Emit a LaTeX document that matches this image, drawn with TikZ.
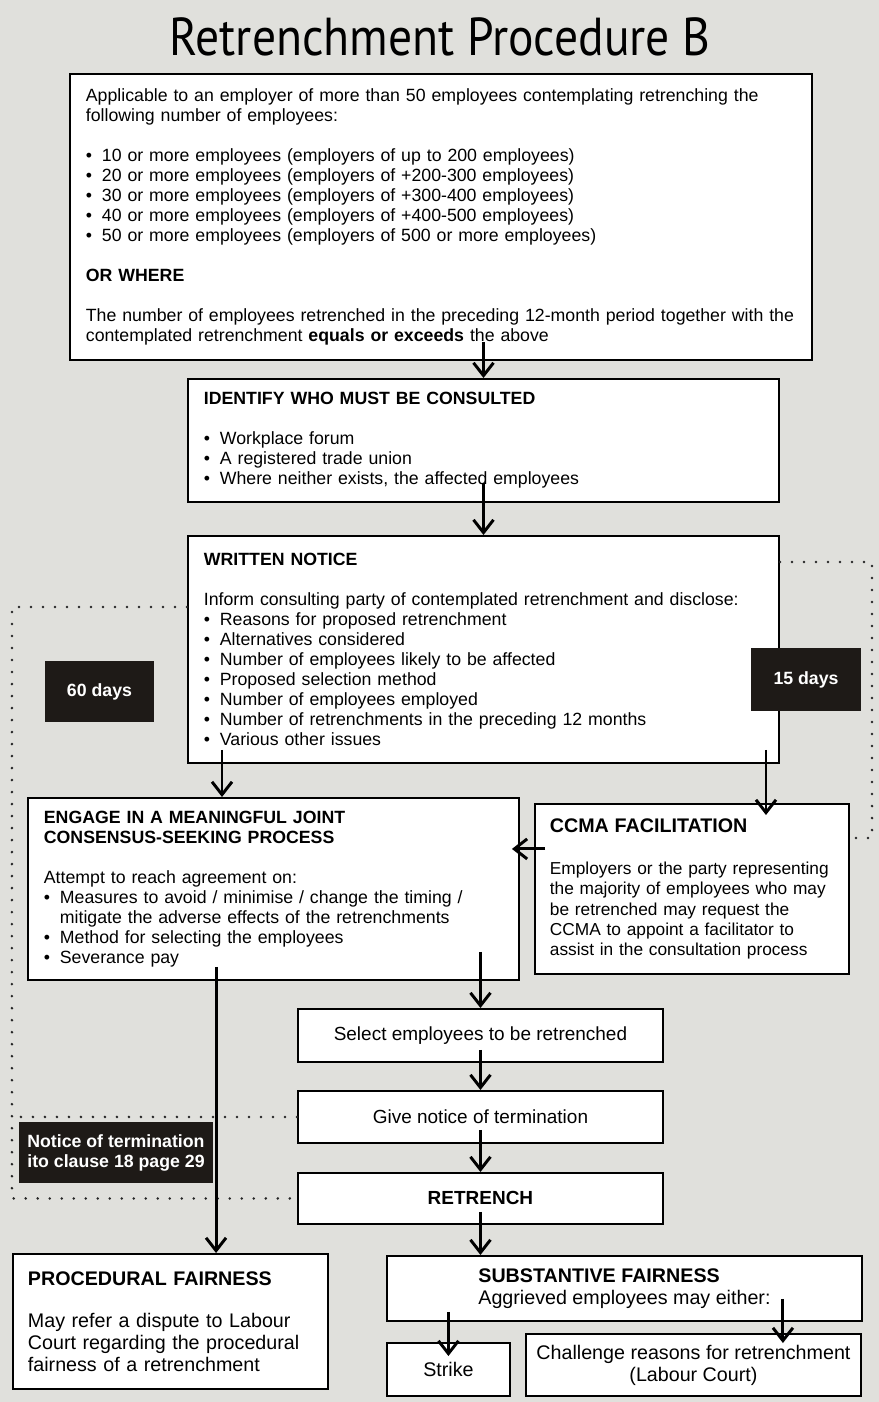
\documentclass[tikz,border=0pt]{standalone}
\usepackage{fontspec}
\setmainfont{Liberation Sans}
\newfontfamily\titlefont{PT Sans}
\usetikzlibrary{arrows.meta, calc}
\definecolor{rtbg}{RGB}{224,224,220}
\definecolor{rtdark}{RGB}{30,26,23}
\hyphenpenalty=10000
\exhyphenpenalty=10000
\newcommand\bul{\makebox[0.4cm][l]{\textbullet}}
\tikzset{
    box/.style={rectangle, draw=black, fill=white, line width=1.3pt, anchor=north west, align=left, inner xsep=0.4cm, inner ysep=2pt, font=\fontsize{12.6}{14.23}\selectfont},
    cbox/.style={rectangle, draw=black, fill=white, line width=1.3pt, anchor=north west, align=center, font=\fontsize{13.5}{15.6}\selectfont},
    daybox/.style={rectangle, fill=rtdark, text=white, align=left, font=\fontsize{12.6}{14.23}\selectfont\bfseries},
    arr/.style={-{Straight Barb[length=0.32cm, width=0.5cm]}, line width=2.1pt},
    dotline/.style={line width=2pt, line cap=round, dash pattern=on 0pt off 0.3cm, color=black!85}
}
\begin{document}
\begin{tikzpicture}[x=0.025cm, y=-0.025cm]
    % Background
    \fill[rtbg] (0,0) rectangle (879,1402);

    % Title
    \node[font=\titlefont\fontsize{38}{42}\selectfont, xscale=0.89, transform shape] (title) at (440,37) {Retrenchment Procedure B};

    % Main flow boxes
    \node[box, minimum width=18.55cm, minimum height=7.15cm, text width=17.75cm] (top) at (69,73) {%
        Applicable to an employer of more than 50 employees contemplating retrenching the\\
        following number of employees:\\[0.5cm]
        \bul 10 or more employees (employers of up to 200 employees)\\
        \bul 20 or more employees (employers of +200-300 employees)\\
        \bul 30 or more employees (employers of +300-400 employees)\\
        \bul 40 or more employees (employers of +400-500 employees)\\
        \bul 50 or more employees (employers of 500 or more employees)\\[0.5cm]
        \textbf{OR WHERE}\\[0.5cm]
        The number of employees retrenched in the preceding 12-month period together with the\\
        contemplated retrenchment \textbf{equals or exceeds} the above};
    \node[box, minimum width=14.775cm, minimum height=3.075cm, text width=13.975cm] (idn) at (187,378) {%
        \textbf{IDENTIFY WHO MUST BE CONSULTED}\\[0.5cm]
        \bul Workplace forum\\
        \bul A registered trade union\\
        \bul Where neither exists, the affected employees};
    \node[box, minimum width=14.775cm, minimum height=5.675cm, text width=13.975cm] (wrt) at (187,535) {%
        \textbf{WRITTEN NOTICE}\\[0.5cm]
        Inform consulting party of contemplated retrenchment and disclose:\\
        \bul Reasons for proposed retrenchment\\
        \bul Alternatives considered\\
        \bul Number of employees likely to be affected\\
        \bul Proposed selection method\\
        \bul Number of employees employed\\
        \bul Number of retrenchments in the preceding 12 months\\
        \bul Various other issues};
    \node[box, minimum width=12.275cm, minimum height=4.55cm, text width=11.475cm] (eng) at (27,797) {%
        \textbf{ENGAGE IN A MEANINGFUL JOINT}\\
        \textbf{CONSENSUS-SEEKING PROCESS}\\[0.5cm]
        Attempt to reach agreement on:\\
        \bul Measures to avoid / minimise / change the timing /\\
        \hspace*{0.4cm}mitigate the adverse effects of the retrenchments\\
        \bul Method for selecting the employees\\
        \bul Severance pay};
    \node[box, minimum width=7.85cm, minimum height=4.25cm, text width=7.1cm, inner xsep=0.375cm, font=\fontsize{12.3}{14.4}\selectfont] (ccma) at (534,803) {%
        {\fontsize{14}{16}\selectfont\textbf{CCMA FACILITATION}}\\[0.55cm]
        Employers or the party representing\\
        the majority of employees who may\\
        be retrenched may request the\\
        CCMA to appoint a facilitator to\\
        assist in the consultation process};
    \node[cbox, minimum width=9.125cm, minimum height=1.325cm] (sel) at (297,1008) {Select employees to be retrenched};
    \node[cbox, minimum width=9.125cm, minimum height=1.3cm] (giv) at (297,1090) {Give notice of termination};
    \node[cbox, minimum width=9.125cm, minimum height=1.275cm] (ret) at (297,1172) {\textbf{RETRENCH}};

    % Outcome boxes
    \node[box, minimum width=7.875cm, minimum height=3.375cm, text width=7.125cm, inner xsep=0.375cm, font=\fontsize{14}{15.6}\selectfont] (proc) at (12,1253) {%
        \textbf{PROCEDURAL FAIRNESS}\\[0.5cm]
        May refer a dispute to Labour\\
        Court regarding the procedural\\
        fairness of a retrenchment};
    \node[box, align=left, minimum width=11.875cm, minimum height=1.625cm, font=\fontsize{14}{15.6}\selectfont] (sub) at (386,1255) {%
        \textbf{SUBSTANTIVE FAIRNESS}\\
        Aggrieved employees may either:};
    \node[cbox, minimum width=3.075cm, minimum height=1.325cm, font=\fontsize{14}{15.6}\selectfont] (str) at (386,1342) {Strike};
    \node[cbox, minimum width=8.375cm, minimum height=1.55cm, font=\fontsize{14}{15.6}\selectfont] (chal) at (525,1333) {Challenge reasons for retrenchment\\(Labour Court)};

    % Dotted time spans
    \coordinate (dl) at ($(wrt.north west)+(-4.375cm,-1.8cm)$);
    \draw[dotline] (dl -| wrt.west) -- (dl) |- (ret.west);
    \draw[dotline] (giv.west) -- (giv.west -| dl);
    \coordinate (dr) at ($(wrt.north east)+(2.3cm,-0.675cm)$);
    \draw[dotline] (dr -| wrt.east) -- (dr) |- ($(ccma.north east)+(0,-0.875cm)$);

    % Time labels
    \node[daybox, minimum width=2.725cm, minimum height=1.525cm, align=center] (d60) at (99.5,691.5) {60 days};
    \node[daybox, minimum width=2.75cm, minimum height=1.575cm, align=center] (d15) at (806,679.5) {15 days};
    \node[daybox, minimum width=4.85cm, minimum height=1.525cm] (ntc) at (116,1152.5) {Notice of termination\\ito clause 18 page 29};

    % Connectors
    \draw[arr] ($(top.south -| idn.north)+(0,0.475cm)$) -- (idn.north);
    \draw[arr] ($(idn.south)+(0,0.5cm)$) -- (wrt.north);
    \coordinate (a1) at ($(wrt.south west)+(0.875cm,0.35cm)$);
    \draw[arr] (a1) -- (a1 |- eng.north);
    \coordinate (a2) at ($(wrt.south east)+(-0.35cm,0.35cm)$);
    \draw[arr] (a2) -- ($(a2 |- ccma.north)+(0,-0.3cm)$);
    \coordinate (a3) at ($(ccma.west)+(0.275cm,1cm)$);
    \draw[arr] (a3) -- ($(a3 -| eng.east)+(-0.2cm,0)$);
    \draw[arr] ($(eng.south -| sel.north)+(0,0.725cm)$) -- (sel.north);
    \coordinate (a4) at ($(eng.south west)+(4.725cm,0.35cm)$);
    \draw[arr] (a4) -- (a4 |- proc.north);
    \draw[arr] ($(sel.south)+(0,0.325cm)$) -- (giv.north);
    \draw[arr] ($(giv.south)+(0,0.35cm)$) -- (ret.north);
    \draw[arr] ($(ret.south)+(0,0.325cm)$) -- (ret.south |- sub.north);
    \draw[arr] ($(sub.south -| str.north)+(0,0.25cm)$) -- ([yshift=-0.35cm]str.north);
    \coordinate (a5) at ($(sub.south east)+(-2cm,0.575cm)$);
    \draw[arr] (a5) -- ($(a5 |- chal.north)+(0,-0.25cm)$);
\end{tikzpicture}
\end{document}
